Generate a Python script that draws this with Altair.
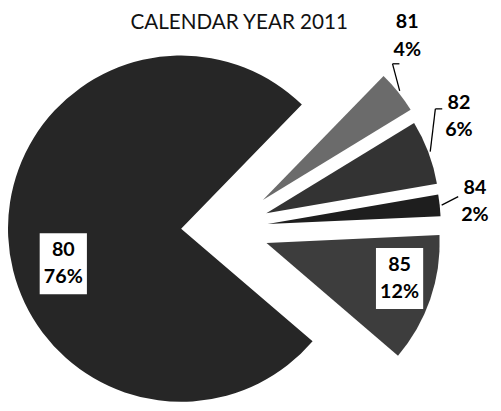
import altair as alt
import pandas as pd

# ---- data ----
title = "CALENDAR YEAR 2011"
cats = ["80", "81", "82", "84", "85"]
values = [76, 4, 6, 2, 12]
pct_labels = ["76%", "4%", "6%", "2%", "12%"]
colors = ["#262626", "#6b6b6b", "#333333", "#1e1e1e", "#3d3d3d"]

df = pd.DataFrame({"cat": cats, "value": values, "pct": pct_labels})

# ---- layout / style ----
W, H = 493, 403
CX, CY, R = 176, 221, 176
START_DEG = 130.6 - 360          # first slice ("80") starts here, clockwise
EXPLODE = 88                     # pull-out distance of the small slices
FONT = "Lato"
LINE_H = 28

# label placement per slice: (distance from slice centre, angle shift in degrees)
label_place = {"80": (125, -14), "81": (222, -10), "82": (219, -6), "84": (212, 0), "85": (140, -4)}
# leader elbows relative to the label centre
leader = {"81": (-15, 28, 7), "82": (-24, -8, 7), "84": (-17, -5, 0)}


def case(d, idx, default=0):
    expr = str(default)
    for k, v in d.items():
        expr = f"(datum.cat=='{k}' ? {v[idx]} : {expr})"
    return expr


base = (
    alt.Chart(df)
    .transform_window(cum="sum(value)", sort=[alt.SortField("cat")], frame=[None, 0])
    .transform_joinaggregate(total="sum(value)")
    .transform_calculate(
        a0=f"{START_DEG}*PI/180 + 2*PI*(datum.cum - datum.value)/datum.total",
        a1=f"{START_DEG}*PI/180 + 2*PI*datum.cum/datum.total",
    )
    .transform_calculate(mid="(datum.a0 + datum.a1)/2")
    .transform_calculate(
        ed=f"datum.cat == '80' ? 0 : {EXPLODE}",
        edir="PI/4 + datum.mid/2",
    )
    .transform_calculate(
        cx=f"{CX} + datum.ed*sin(datum.edir)",
        cy=f"{CY} - datum.ed*cos(datum.edir)",
    )
    .transform_calculate(
        lr=case(label_place, 0, 150),
        la=f"datum.mid + ({case(label_place, 1, 0)})*PI/180",
        sx=f"datum.cx + {R + 2}*sin(datum.mid)",
        sy=f"datum.cy - {R + 2}*cos(datum.mid)",
    )
    .transform_calculate(
        lx="datum.cx + datum.lr*sin(datum.la)",
        ly="datum.cy - datum.lr*cos(datum.la)",
        txt="datum.cat + '\\n' + datum.pct",
    )
    .transform_calculate(
        ex=f"datum.lx + ({case(leader, 0)})",
        ey=f"datum.ly + ({case(leader, 1)})",
        ex2=f"datum.lx + ({case(leader, 0)}) + ({case(leader, 2)})",
    )
)

px = lambda f: alt.X(f, scale=None, axis=None)
py = lambda f: alt.Y(f, scale=None, axis=None)

arcs = base.mark_arc(radius=R).encode(
    theta=alt.Theta("a0:Q", scale=None),
    theta2="a1:Q",
    x=px("cx:Q"),
    y=py("cy:Q"),
    color=alt.Color("cat:N", scale=alt.Scale(domain=cats, range=colors), legend=None),
)

boxes = base.transform_filter("datum.cat == '80' || datum.cat == '85'").transform_calculate(
    bx0="datum.lx - 24", bx1="datum.lx + 24", by0="datum.ly - 31", by1="datum.ly + 31"
).mark_rect(color="white").encode(
    x=px("bx0:Q"), x2="bx1:Q", y=py("by0:Q"), y2="by1:Q"
)

lead1 = base.transform_filter("datum.cat == '81' || datum.cat == '82' || datum.cat == '84'").mark_rule(
    color="black", strokeWidth=1.3
).encode(x=px("sx:Q"), y=py("sy:Q"), x2="ex:Q", y2="ey:Q")

lead2 = base.transform_filter("datum.cat == '81' || datum.cat == '82'").mark_rule(
    color="black", strokeWidth=1.3
).encode(x=px("ex:Q"), y=py("ey:Q"), x2="ex2:Q", y2="ey:Q")

labels = base.mark_text(
    font=FONT, fontSize=20, fontWeight="bold", color="black",
    lineBreak="\n", lineHeight=LINE_H, align="center", baseline="middle", dy=-LINE_H / 2,
).encode(x=px("lx:Q"), y=py("ly:Q"), text="txt:N")

title_layer = alt.Chart(pd.DataFrame({"t": [title]})).mark_text(
    font=FONT, fontSize=21, color="#111111", align="center", baseline="alphabetic"
).encode(text="t:N", x=alt.value(235), y=alt.value(18))

chart = (
    alt.layer(arcs, boxes, lead1, lead2, labels, title_layer)
    .properties(width=W, height=H, padding=0, autosize=alt.AutoSizeParams(type="none"), background="white")
    .configure_view(stroke=None)
)

chart.save("out.html", embed_options={"renderer": "svg", "actions": False})
